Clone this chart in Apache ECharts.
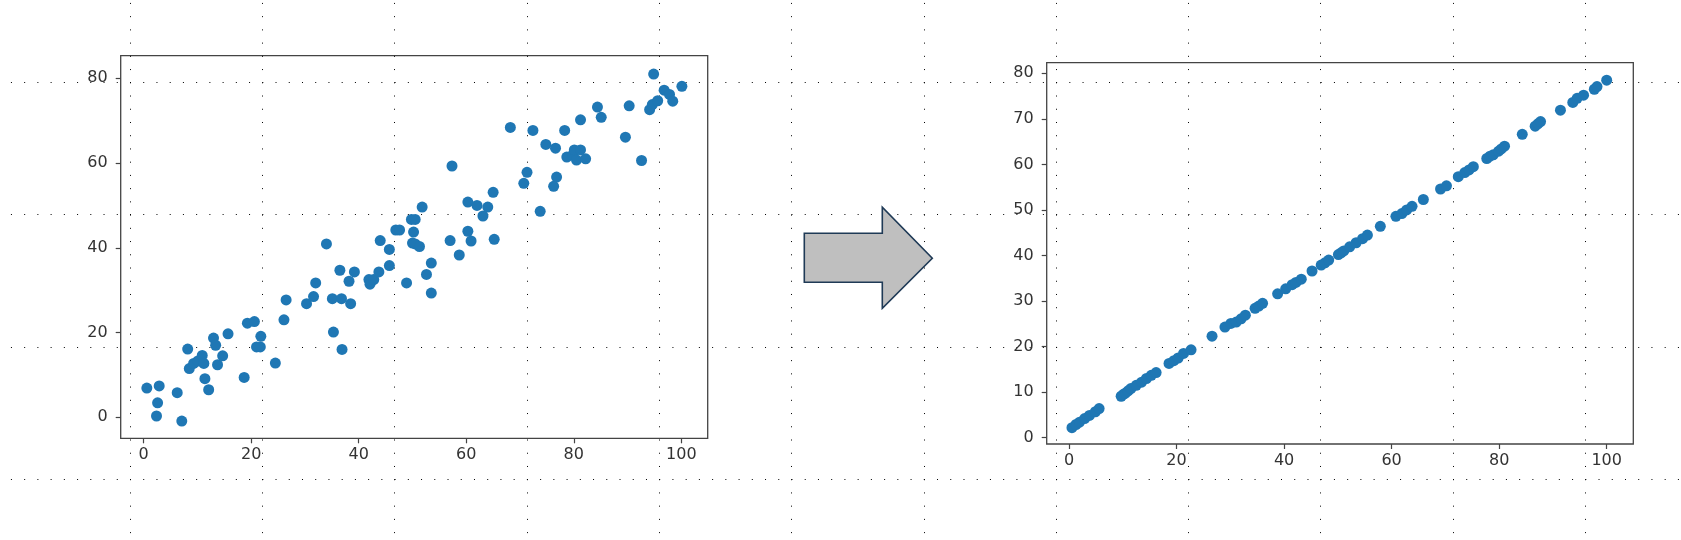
<!DOCTYPE html>
<html>
<head>
<meta charset="utf-8">
<script src="https://cdn.jsdelivr.net/npm/echarts@6/dist/echarts.min.js"></script>
<style>
html,body{margin:0;padding:0;background:#fff;}
#chart{width:1681px;height:540px;}
</style>
</head>
<body>
<div id="chart"></div>
<script>
// ---- Data ----
// Left panel: noisy scatter
const leftX = [0.6,2.9,2.6,2.4,6.25,7.1,8.2,8.5,9.3,10.1,10.9,11.2,11.4,12.1,13.0,13.4,13.75,14.7,15.7,18.7,
  19.3,20.6,21.0,21.7,21.8,24.5,26.1,26.5,30.3,31.6,32.0,34.0,35.1,35.3,36.5,36.8,36.9,38.2,38.5,39.2,
  41.9,42.1,42.8,43.75,44.0,45.7,45.7,46.9,47.6,48.9,49.8,50.5,50.2,50.0,50.5,51.3,51.8,52.6,53.5,53.5,
  57.0,57.35,58.7,60.3,60.3,60.9,62.0,63.1,64.0,65.0,65.2,68.2,70.7,71.3,72.4,73.75,74.8,76.25,76.8,76.6,
  78.3,78.7,79.8,80.1,80.5,81.25,81.25,82.2,84.4,85.1,89.6,90.3,92.6,94.1,94.85,94.6,95.6,96.8,97.8,98.4,100.1];
const leftY = [6.9,7.4,3.4,0.3,5.8,-0.9,16.1,11.5,12.7,13.3,14.6,12.7,9.1,6.5,18.7,17.0,12.4,14.5,19.7,9.4,
  22.2,22.6,16.6,16.6,19.1,12.8,23.0,27.7,26.8,28.5,31.7,40.9,28.0,20.1,34.7,28.0,16.0,32.1,26.8,34.3,
  32.5,31.4,32.5,34.3,41.7,39.6,35.8,44.2,44.2,31.7,46.7,46.7,43.7,41.1,40.9,40.3,49.6,33.7,36.4,29.3,
  41.7,59.3,38.3,50.8,43.9,41.6,50.0,47.5,49.6,53.1,42.0,68.4,55.2,57.8,67.7,48.6,64.4,54.5,56.7,63.5,
  67.7,61.4,61.9,63.1,60.7,63.1,70.2,61.0,73.2,70.8,66.1,73.5,60.6,72.6,81.0,73.8,74.7,77.2,76.2,74.6,78.1];

// Right panel: fitted values
const rightX = [0.55,1.3,1.96,2.9,3.8,4.9,5.6,9.7,10.1,10.5,11.0,11.5,12.5,13.5,14.4,15.3,16.2,18.6,19.5,20.3,
  21.3,22.7,26.6,29.0,30.1,31.1,32.0,32.8,34.6,35.3,36.0,38.8,40.3,41.5,42.2,43.2,45.2,46.9,47.6,48.3,
  50.1,50.6,51.1,52.2,53.4,54.6,55.5,57.9,60.8,61.9,62.8,63.8,65.9,69.1,70.2,72.4,73.6,74.4,75.2,77.7,
  78.3,78.9,79.9,80.4,81.0,84.3,86.7,87.2,87.7,91.4,93.7,94.5,95.7,97.7,98.2,100.0];
const rightY = [2.2,2.9,3.4,4.2,4.9,5.7,6.4,9.1,9.5,9.8,10.3,10.8,11.5,12.2,13.0,13.7,14.3,16.3,16.9,17.5,
  18.5,19.3,22.3,24.3,25.1,25.4,26.1,26.9,28.4,28.9,29.5,31.6,32.7,33.6,34.1,34.8,36.6,37.9,38.4,39.0,
  40.2,40.6,41.0,41.9,42.8,43.7,44.5,46.4,48.6,49.2,50.0,50.8,52.3,54.6,55.3,57.3,58.2,58.8,59.5,61.3,
  61.8,62.1,62.9,63.4,64.0,66.6,68.4,68.9,69.4,71.9,73.6,74.5,75.2,76.5,77.1,78.5];

// Tick labels
const xTicks = [0,20,40,60,80,100];
const leftYTicks = [0,20,40,60,80];
const rightYTicks = [0,10,20,30,40,50,60,70,80];

// ---- Chart ----
const zip = (xs, ys) => xs.map((x, i) => [x, ys[i]]);
const frameColor = '#444';
const labelStyle = {color:'#333', fontFamily:'DejaVu Sans', fontSize:16};

function plotX(gi, min, max){
  return {
    gridIndex: gi, type:'value', min:min, max:max, position:'bottom',
    axisLine:{show:false, onZero:false},
    axisTick:{show:true, length:5, lineStyle:{color:frameColor, width:1.2}, customValues:xTicks},
    axisLabel:Object.assign({margin:9, customValues:xTicks}, labelStyle),
    splitLine:{show:false}
  };
}
function plotY(gi, min, max, ticks){
  return {
    gridIndex: gi, type:'value', min:min, max:max, position:'left',
    axisLine:{show:false, onZero:false},
    axisTick:{show:true, length:5, lineStyle:{color:frameColor, width:1.2}, customValues:ticks},
    axisLabel:Object.assign({margin:13, customValues:ticks}, labelStyle),
    splitLine:{show:false}
  };
}
const dotted = {show:true, lineStyle:{color:'#000', width:1, type:[1, 12.23]}};
const hidden = {axisLine:{show:false, onZero:false}, axisTick:{show:false}, axisLabel:{show:false}};

const option = {
  animation:false,
  backgroundColor:'#fff',
  grid:[
    // background guide: vertical dotted lines
    {left:130, top:2.92, width:1455.3, bottom:0, show:false},
    // background guide: horizontal dotted lines
    {left:10.93, right:0, top:82.3, height:396.9, show:false},
    // left panel
    {left:120.7, top:55.7, width:587, height:382.6, show:true, borderColor:frameColor, borderWidth:1.3, backgroundColor:'transparent'},
    // right panel
    {left:1046.7, top:62.7, width:586.6, height:381.3, show:true, borderColor:frameColor, borderWidth:1.3, backgroundColor:'transparent'}
  ],
  xAxis:[
    Object.assign({gridIndex:0, type:'value', min:0, max:11, interval:1, splitLine:dotted}, hidden),
    Object.assign({gridIndex:1, type:'value', min:0, max:1, splitLine:{show:false}}, hidden),
    plotX(2, -4.26, 104.9),
    plotX(3, -4.15, 104.95)
  ],
  yAxis:[
    Object.assign({gridIndex:0, type:'value', min:0, max:1, splitLine:{show:false}}, hidden),
    Object.assign({gridIndex:1, type:'value', inverse:true, min:0, max:3, interval:1, splitLine:dotted}, hidden),
    plotY(2, -4.96, 85.33, leftYTicks),
    plotY(3, -1.38, 82.33, rightYTicks)
  ],
  series:[
    {type:'scatter', xAxisIndex:2, yAxisIndex:2, data:zip(leftX, leftY), symbolSize:11, itemStyle:{color:'#1f77b4', opacity:1}},
    {type:'scatter', xAxisIndex:3, yAxisIndex:3, data:zip(rightX, rightY), symbolSize:11, itemStyle:{color:'#1f77b4', opacity:1}}
  ],
  graphic:[
    {type:'polygon', z:10,
     shape:{points:[[804.3,233.3],[882.3,233.3],[882.3,207.3],[932.3,258.3],[882.3,308.3],[882.3,282.3],[804.3,282.3]]},
     style:{fill:'#bfbfbf', stroke:'#1f3a56', lineWidth:1.6}}
  ]
};

const chart = echarts.init(document.getElementById('chart'), null, {renderer:'canvas'});
chart.setOption(option);
</script>
</body>
</html>
